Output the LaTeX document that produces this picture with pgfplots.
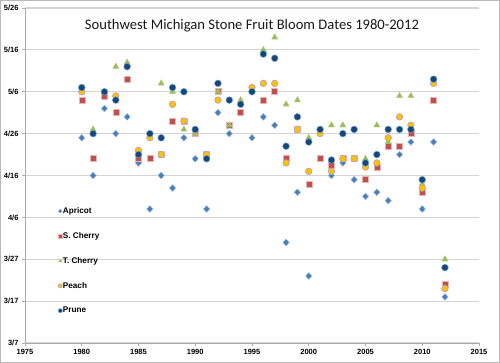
\documentclass[border=0pt]{standalone}
\usepackage{pgfplots}
\pgfplotsset{compat=1.18}
\usepackage{pgfplotstable}
\usepackage{fontspec}
\setmainfont{Liberation Sans}
\newfontfamily\titlefont{Carlito}
\definecolor{gridc}{RGB}{212,212,212}
\definecolor{axc}{RGB}{170,170,170}
\definecolor{apc}{RGB}{74,126,187}
\definecolor{apo}{RGB}{160,190,225}
\definecolor{scc}{RGB}{192,80,77}
\definecolor{sco}{RGB}{232,180,180}
\definecolor{tcc}{RGB}{155,187,89}
\definecolor{pec}{RGB}{255,192,0}
\definecolor{peo}{RGB}{180,160,200}
\definecolor{prc}{RGB}{24,70,120}
\definecolor{pro}{RGB}{110,170,210}

% days after March 7 (3/7 = 0, 3/17 = 10, ..., 5/26 = 80)
\pgfplotstableread{
year ap sc tc pe pr
1980 49 58 nan 60 61
1981 40 44 51 nan 50
1982 56 59 nan nan 60
1983 50 55 66 59 58
1984 54 63 67 nan 66
1985 43 44 nan 46 45
1986 32 44 nan 49 50
1987 40 45 62 45 49
1988 37 53 60 57 61
1989 49 53 51 53 60
1990 44 50 50 nan 51
1991 32 45 nan 45 44
1992 55 60 60 58 62
1993 50 52 52 nan 58
1994 nan 55 58 nan 57
1995 49 nan nan 61 60
1996 54 58 70 62 69
1997 52 60 73 62 68
1998 24 44 57 43 47
1999 36 51 58 51 54
2000 16 38 49 41 48
2001 nan 44 nan 50 51
2002 40 42.5 52 41 43.7
2003 43 44 52 44 50
2004 39 44 nan 44 51
2005 35 39 44 42 43
2006 36 42 52 43 45
2007 34 47 48 49 51
2008 45 47 59 54 51
2009 48 50 59 52 51
2010 32 36 38 37 39
2011 48 58 nan 62 63
2012 11 14 20 13 18
}\bloom

\begin{document}
\begin{tikzpicture}
\useasboundingbox (-25bp,-20bp) rectangle (475bp,343bp);
\draw[gray!55, line width=0.8bp] (-24.6bp,-19.6bp) rectangle (474.6bp,342.6bp);
\begin{axis}[
  at={(0,0)}, anchor=south west,
  scale only axis, width=454bp, height=335bp,
  xmin=1975, xmax=2015, ymin=0, ymax=80,
  xtick={1975,1980,1985,1990,1995,2000,2005,2010,2015},
  xticklabels={1975,1980,1985,1990,1995,2000,2005,2010,2015},
  ytick={0,10,20,30,40,50,60,70,80},
  yticklabels={3/7,3/17,3/27,4/6,4/16,4/26,5/6,5/16,5/26},
  ymajorgrids, grid style={gridc, line width=1.2bp},
  axis x line*=bottom, axis y line*=left,
  axis line style={axc, line width=0.8bp, -},
  tick style={axc, line width=0.8bp},
  major tick length=3bp, tick align=outside,
  ticklabel style={font=\fontsize{7.5bp}{9bp}\selectfont\bfseries, text=black},
  title={Southwest Michigan Stone Fruit Bloom Dates 1980-2012},
  title style={at={(0.5,0.93)}, anchor=center, font=\titlefont\fontsize{14.6bp}{17bp}\selectfont, text=black!90},
  legend cell align=left,
  legend style={at={(0.0727,0.407)}, anchor=north west, draw=none, fill=none, inner sep=0pt,
    row sep=16.4bp, font=\fontsize{8.2bp}{9bp}\selectfont\bfseries,
    nodes={inner sep=0.5bp, text height=6bp, text depth=1.5bp}},
  legend image code/.code={\draw[#1,mark size=2.1bp] plot coordinates {(0bp,0bp)};},
]
\addplot[only marks, mark=diamond*, mark size=3.4bp, mark options={fill=apc, draw=apo, line width=0.4bp, xscale=1.25}] table[x=year,y=ap] {\bloom};
\addlegendentry{Apricot}
\addplot[only marks, mark=square*, mark size=3bp, mark options={fill=scc, draw=sco, line width=0.5bp}] table[x=year,y=sc] {\bloom};
\addlegendentry{S. Cherry}
\addplot[only marks, mark=triangle*, mark size=3.6bp, mark options={fill=tcc, draw=tcc!75!white, line width=0.4bp}] table[x=year,y=tc] {\bloom};
\addlegendentry{T. Cherry}
\addplot[only marks, mark=*, mark size=3.3bp, mark options={fill=pec, draw=peo, line width=0.6bp}] table[x=year,y=pe] {\bloom};
\addlegendentry{Peach}
\addplot[only marks, mark=*, mark size=3.4bp, mark options={fill=prc, draw=pro, line width=0.5bp}] table[x=year,y=pr] {\bloom};
\addlegendentry{Prune}
\end{axis}
\end{tikzpicture}
\end{document}
